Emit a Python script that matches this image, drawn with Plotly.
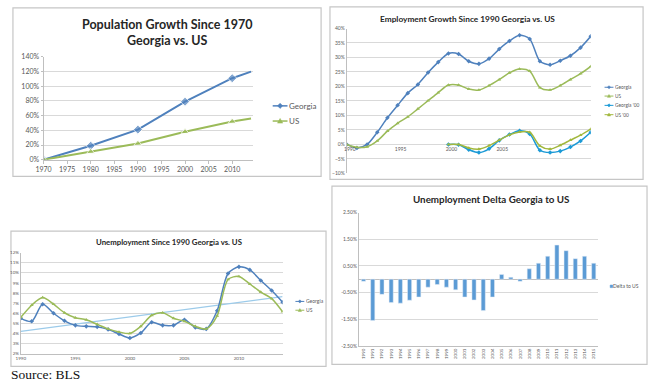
import plotly.graph_objects as go

W, H = 649, 385


def px(x):
    return x / W


def py(y):
    return 1 - y / H


# ---------------- data ----------------
pop_years = [1970, 1980, 1990, 2000, 2010, 2014]
pop_georgia = [0, 19, 41, 79, 111, 120]
pop_us = [0, 11, 22, 38, 52, 56]
pop_ticks = [1970, 1975, 1980, 1985, 1990, 1995, 2000, 2005, 2010]

emp_years = list(range(1990, 2015))
emp_georgia = [0, -1.2, 0.0, 4.2, 9.2, 13.5, 17.7, 20.7, 24.8, 28.4, 31.4, 31.2, 28.7, 27.8,
               29.6, 32.9, 35.7, 37.7, 36.4, 28.7, 27.5, 28.9, 30.6, 33.4, 37.3]
emp_us = [0, -1.0, -0.8, 1.2, 4.6, 7.3, 9.5, 12.3, 15.1, 17.9, 20.5, 20.5, 19.1, 18.8,
          20.3, 22.4, 24.7, 26.0, 25.3, 19.6, 18.8, 20.3, 22.4, 24.4, 26.9]
emp00_years = list(range(2000, 2015))
emp_georgia00 = [0, -0.1, -1.8, -2.8, -1.5, 1.4, 3.4, 4.7, 3.6, -2.0, -2.8, -2.3, -0.9, 1.2, 4.2]
emp_us00 = [0, 0.0, -1.2, -1.6, -0.4, 1.5, 3.3, 4.3, 4.2, -0.5, -1.6, -0.3, 1.5, 3.2, 5.3]
emp_ticks = [1990, 1995, 2000, 2005]

unemp_years = list(range(1990, 2015))
unemp_georgia = [5.5, 5.2, 6.9, 6.0, 5.25, 4.8, 4.7, 4.65, 4.4, 3.95, 3.55, 4.05, 5.1, 4.8,
                 4.8, 5.35, 4.6, 4.45, 6.25, 9.95, 10.6, 10.3, 9.25, 8.25, 7.1]
unemp_us = [5.6, 6.8, 7.55, 6.9, 6.05, 5.55, 5.35, 4.9, 4.45, 4.15, 4.0, 4.7, 5.8, 6.05,
            5.5, 5.2, 4.7, 4.45, 5.75, 9.35, 9.65, 8.9, 8.1, 7.45, 6.15]
trend_years = [1990, 2014]
trend_vals = [4.2, 7.65]
unemp_ticks = [1990, 1995, 2000, 2005, 2010]

delta_years = list(range(1990, 2016))
delta_vals = [-0.08, -1.55, -0.57, -0.88, -0.9, -0.79, -0.67, -0.3, -0.2, -0.3, -0.4, -0.67,
              -0.78, -1.18, -0.67, 0.18, 0.07, -0.08, 0.39, 0.6, 0.86, 1.28, 1.07, 0.77, 0.86, 0.6]
delta_ticks = [-2.5, -1.5, -0.5, 0.5, 1.5, 2.5]
delta_ticktext = ["-2.50%", "-1.50%", "-0.50%", "0.50%", "1.50%", "2.50%"]

# ---------------- styles ----------------
BLUE = "#4F81BD"
GREEN = "#9BBB59"
CYAN = "#1C9AD6"
OLIVE = "#A2B83E"
BAR = "#5B9BD5"
TREND = "#9CCBEA"
GRID = "#d9d9d9"
AXIS = "#bfbfbf"
TXT = "#595959"
FONT = "Lato"

fig = go.Figure()

# Panel 1: population growth
fig.add_trace(go.Scatter(x=pop_years, y=pop_georgia, mode="lines+markers", name="Georgia",
                         line=dict(color=BLUE, width=2),
                         marker=dict(symbol="diamond", size=[7, 7, 7, 7, 7, 0], color=BLUE),
                         xaxis="x", yaxis="y", showlegend=False))
fig.add_trace(go.Scatter(x=pop_years, y=pop_us, mode="lines+markers", name="US",
                         line=dict(color=GREEN, width=2),
                         marker=dict(symbol="triangle-up", size=[7, 7, 7, 7, 7, 0], color=GREEN),
                         xaxis="x", yaxis="y", showlegend=False))

# Panel 2: employment growth
for yv, xv, col, sym, nm in [(emp_georgia, emp_years, BLUE, "diamond", "Georgia"),
                             (emp_us, emp_years, GREEN, "triangle-up", "US"),
                             (emp_georgia00, emp00_years, CYAN, "diamond", "Georgia '00"),
                             (emp_us00, emp00_years, OLIVE, "triangle-up", "US '00")]:
    fig.add_trace(go.Scatter(x=xv, y=yv, mode="lines+markers", name=nm,
                             line=dict(color=col, width=1.5, shape="spline", smoothing=0.8),
                             marker=dict(symbol=sym, size=3.5, color=col),
                             xaxis="x2", yaxis="y2", showlegend=False))

# Panel 3: unemployment
fig.add_trace(go.Scatter(x=trend_years, y=trend_vals, mode="lines", name="trend",
                         line=dict(color=TREND, width=1.2),
                         xaxis="x3", yaxis="y3", showlegend=False))
fig.add_trace(go.Scatter(x=unemp_years, y=unemp_georgia, mode="lines+markers", name="Georgia",
                         line=dict(color=BLUE, width=1.5, shape="spline", smoothing=0.8),
                         marker=dict(symbol="diamond", size=3.5, color=BLUE),
                         xaxis="x3", yaxis="y3", showlegend=False))
fig.add_trace(go.Scatter(x=unemp_years, y=unemp_us, mode="lines+markers", name="US",
                         line=dict(color=GREEN, width=1.5, shape="spline", smoothing=0.8),
                         marker=dict(symbol="triangle-up", size=3.5, color=GREEN),
                         xaxis="x3", yaxis="y3", showlegend=False))

# Panel 4: delta bars
fig.add_trace(go.Bar(x=delta_years, y=delta_vals, name="Delta to US", marker_color=BAR,
                     width=0.45, xaxis="x4", yaxis="y4", showlegend=False))

fig.update_layout(
    width=W, height=H, autosize=False,
    margin=dict(l=0, r=0, t=0, b=0),
    paper_bgcolor="white", plot_bgcolor="rgba(0,0,0,0)",
    font=dict(family=FONT, color=TXT),
    xaxis=dict(domain=[px(36), px(248)], range=[1970, 2014.4], anchor="y",
               tickvals=pop_ticks, ticks="outside", ticklen=3, tickcolor=AXIS,
               showline=True, linecolor=AXIS, showgrid=False, zeroline=False,
               tickfont=dict(family=FONT, size=7, color=TXT)),
    yaxis=dict(domain=[py(158), py(53)], range=[0, 140], dtick=20, ticksuffix="%",
               anchor="x", showline=True, linecolor=AXIS, gridcolor=GRID, zeroline=False,
               ticks="outside", ticklen=2, tickcolor=AXIS,
               tickfont=dict(family=FONT, size=7, color=TXT)),
    xaxis2=dict(domain=[px(343), px(590)], range=[1990, 2014], anchor="free",
                position=py(142.5), tickvals=emp_ticks, ticks="", showline=False,
                showgrid=False, zeroline=False, ticklabelstandoff=0, ticklabelshift=3,
                tickfont=dict(family=FONT, size=5, color=TXT)),
    yaxis2=dict(domain=[py(172), py(24)], range=[-10, 40], dtick=5, ticksuffix="%",
                anchor="x2", showline=True, linecolor=AXIS, gridcolor=GRID, zeroline=False,
                tickfont=dict(family=FONT, size=5, color=TXT)),
    xaxis3=dict(domain=[px(13), px(278)], range=[1990, 2014], anchor="y3",
                tickvals=unemp_ticks, ticks="", showline=True, linecolor=AXIS,
                showgrid=False, zeroline=False,
                tickfont=dict(family=FONT, size=4.5, color=TXT)),
    yaxis3=dict(domain=[py(356), py(253)], range=[2, 12], dtick=1, ticksuffix="%",
                anchor="x3", showline=True, linecolor=AXIS, gridcolor=GRID, zeroline=False,
                tickfont=dict(family=FONT, size=4.5, color=TXT)),
    xaxis4=dict(domain=[px(355.3), px(597.7)], range=[1989.5, 2015.5], anchor="y4",
                tickvals=delta_years, tickangle=-90, ticks="", showline=True,
                linecolor=AXIS, showgrid=False, zeroline=False,
                tickfont=dict(family=FONT, size=4.5, color=TXT)),
    yaxis4=dict(domain=[py(348), py(212)], range=[-2.5, 2.5], tickvals=delta_ticks,
                ticktext=delta_ticktext, anchor="x4", showline=True, linecolor=AXIS,
                gridcolor=GRID, zeroline=True, zerolinecolor=AXIS, zerolinewidth=1,
                tickfont=dict(family=FONT, size=5, color=TXT)),
)

shapes = []
annotations = []

# panel frames
for x0, y0, x1, y1 in [(5, 3, 317, 175), (326, 2, 643, 178), (3, 231, 322, 369), (328, 185, 647, 367)]:
    shapes.append(dict(type="rect", xref="paper", yref="paper", x0=px(x0), x1=px(x1),
                       y0=py(y1), y1=py(y0), line=dict(color="#c6c6c6", width=1.2),
                       fillcolor="rgba(0,0,0,0)", layer="below"))

# titles
for text, cx, cy, size in [
        ("<b>Population Growth Since 1970<br>Georgia vs. US</b>", 161, 28, 12.5),
        ("<b>Employment Growth Since 1990 Georgia vs. US</b>", 465, 14, 8.3),
        ("<b>Unemployment Since 1990 Georgia vs. US</b>", 163, 242, 7.8),
        ("<b>Unemployment Delta Georgia to US</b>", 490, 198, 9.8)]:
    annotations.append(dict(text=text, x=px(cx), y=py(cy), xref="paper", yref="paper",
                            xanchor="center", yanchor="middle", showarrow=False,
                            font=dict(family=FONT, size=size, color="#262626")))


def legend_item(x0, x1, y, color, symbol, label, fsize, msize, lw, twidth):
    cx = (x0 + x1) / 2
    if x1 > x0:
        shapes.append(dict(type="line", xref="paper", yref="paper", x0=px(x0), x1=px(x1),
                           y0=py(y), y1=py(y), line=dict(color=color, width=lw)))
    m = msize
    if symbol == "diamond":
        path = f"M{-m},0 L0,{m} L{m},0 L0,{-m} Z"
    elif symbol == "triangle":
        path = f"M{-m},{-m * 0.8} L{m},{-m * 0.8} L0,{m} Z"
    else:
        path = f"M{-m},{-m} L{m},{-m} L{m},{m} L{-m},{m} Z"
    shapes.append(dict(type="path", xref="paper", yref="paper", xsizemode="pixel",
                       ysizemode="pixel", xanchor=px(cx), yanchor=py(y), path=path,
                       fillcolor=color, line=dict(color=color, width=0.5)))
    annotations.append(dict(text=label, x=px(x1 + 1), y=py(y), xref="paper", yref="paper",
                            xanchor="left", yanchor="middle", showarrow=False,
                            width=twidth, align="left", borderpad=0,
                            font=dict(family=FONT, size=fsize, color=TXT)))


legend_item(268, 283, 103, BLUE, "diamond", "Georgia", 8, 2.6, 1.5, 34)
legend_item(268, 283, 118.5, GREEN, "triangle", "US", 8, 2.6, 1.5, 34)

legend_item(604, 613, 84, BLUE, "diamond", "Georgia", 4.8, 1.6, 1, 30)
legend_item(604, 613, 93, GREEN, "triangle", "US", 4.8, 1.6, 1, 30)
legend_item(604, 613, 102.5, CYAN, "diamond", "Georgia '00", 4.8, 1.6, 1, 30)
legend_item(604, 613, 112, OLIVE, "triangle", "US '00", 4.8, 1.6, 1, 30)

legend_item(291, 300, 302.7, BLUE, "diamond", "Georgia", 5, 1.6, 1, 22)
legend_item(291, 300, 311.7, GREEN, "triangle", "US", 5, 1.6, 1, 22)

legend_item(611, 611, 287.3, BAR, "square", "Delta to US", 5, 1.3, 1, 32)

# source
annotations.append(dict(text="Source: BLS", x=px(2), y=py(377.5), xref="paper", yref="paper",
                        xanchor="left", yanchor="middle", showarrow=False, borderpad=0,
                        font=dict(family="Liberation Serif", size=13.5, color="#111111")))

fig.update_layout(shapes=shapes, annotations=annotations)
fig.write_html("out.html", config={"displayModeBar": False},
               post_script="document.body.style.margin='0';document.body.style.overflow='hidden';")
